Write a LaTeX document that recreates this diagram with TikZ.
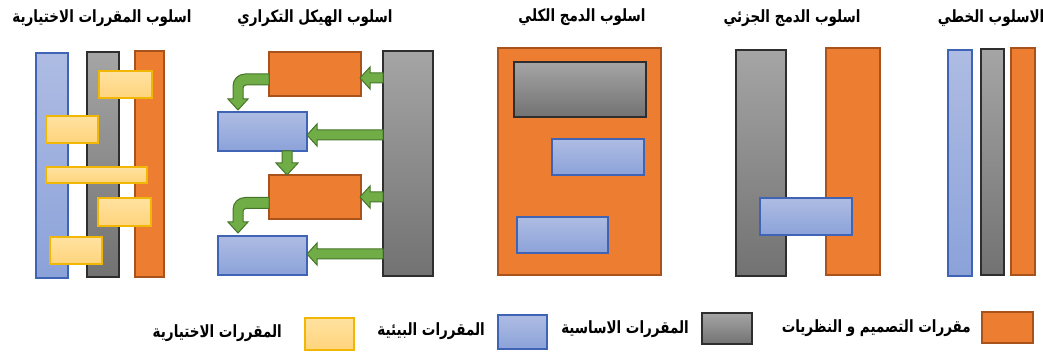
\documentclass[tikz,border=0pt]{standalone}
\usepackage{graphicx}
\usepackage{fontspec}
\usetikzlibrary{calc}
\TeXXeTstate=1
\newfontfamily\arabicfont[Script=Arabic]{DejaVu Sans}
\definecolor{orF}{HTML}{ED7D31}
\definecolor{orB}{HTML}{A9531C}
\definecolor{grT}{HTML}{A5A5A5}
\definecolor{grB}{HTML}{727272}
\definecolor{grD}{HTML}{2E2E2E}
\definecolor{blT}{HTML}{AEBCE3}
\definecolor{blB}{HTML}{8BA2D9}
\definecolor{blD}{HTML}{3F64B5}
\definecolor{yeT}{HTML}{FFE2A0}
\definecolor{yeB}{HTML}{FFD47C}
\definecolor{yeD}{HTML}{F2B705}
\definecolor{gnF}{HTML}{70AD47}
\definecolor{gnD}{HTML}{46752A}
\tikzset{
  base/.style={rectangle, inner sep=0pt, outer sep=0pt, anchor=north west, line width=1.1pt},
  orbox/.style={base, fill=orF, draw=orB},
  grbox/.style={base, top color=grT, bottom color=grB, draw=grD},
  blbox/.style={base, top color=blT, bottom color=blB, draw=blD},
  yebox/.style={base, top color=yeT, bottom color=yeB, draw=yeD},
  garrow/.style={fill=gnF, draw=gnD, line width=1pt, line join=miter},
  ttl/.style={font=\arabicfont\bfseries\fontsize{13.5}{15}\selectfont, inner sep=0pt},
  leg/.style={font=\arabicfont\bfseries\fontsize{13.5}{15}\selectfont, inner sep=0pt, anchor=east},
}
\newcommand\artxt[1]{\scalebox{1}[1.25]{\beginR #1\endR}}
% box: name, style, x1, y1, x2, y2 (pixels, y downward)
\newcommand\bx[6]{\node[#2, minimum width={(#5-#3)*1pt}, minimum height={(#6-#4)*1pt}] (#1) at (#3,#4) {};}
% left-pointing block arrow: tail point, tip point (same height)
\newcommand\LArrow[2]{\draw[garrow] let \p1=#1, \p2=#2 in
  (\x1,\y2+5pt) -- (\x2+10pt,\y2+5pt) -- (\x2+10pt,\y2+11pt) -- (\x2,\y2) --
  (\x2+10pt,\y2-11pt) -- (\x2+10pt,\y2-5pt) -- (\x1,\y2-5pt) -- cycle;}
% down-pointing block arrow: tail point, tip point (same x)
\newcommand\DArrow[2]{\draw[garrow] let \p1=#1, \p2=#2 in
  (\x2-5pt,\y1) -- (\x2-5pt,\y2+12pt) -- (\x2-11pt,\y2+12pt) -- (\x2,\y2) --
  (\x2+11pt,\y2+12pt) -- (\x2+5pt,\y2+12pt) -- (\x2+5pt,\y1) -- cycle;}
% bent block arrow: tail point (on a left side), tip point (below-left)
\newcommand\BArrow[2]{\draw[garrow] let \p1=#1, \p2=#2 in
  (\x1,\y1+5.5pt) [rounded corners=12pt] -- (\x2-5pt,\y1+5.5pt) [sharp corners] --
  (\x2-5pt,\y2+11pt) -- (\x2-10pt,\y2+11pt) -- (\x2,\y2) -- (\x2+10pt,\y2+11pt) --
  (\x2+5pt,\y2+11pt) [rounded corners=3pt] -- (\x2+5pt,\y1-5.5pt) [sharp corners] --
  (\x1,\y1-5.5pt) -- cycle;}
\begin{document}
\begin{tikzpicture}[x=1pt,y=-1pt]
\useasboundingbox (0,0) rectangle (1043,352);
% ---------- style 5: elective courses ----------
\bx{eB}{blbox}{36}{53}{68}{278}
\bx{eG}{grbox}{87}{52}{119}{277}
\bx{eO}{orbox}{135}{51}{164}{277}
\bx{eY1}{yebox}{99}{71}{152}{98}
\bx{eY2}{yebox}{46}{116}{98}{143}
\bx{eY3}{yebox}{46}{167}{147}{183}
\bx{eY4}{yebox}{98}{198}{151}{226}
\bx{eY5}{yebox}{50}{237}{102}{264}
\node[ttl] (t5) at (102,18) {\artxt{اسلوب المقررات الاختيارية}};
% ---------- style 4: iterative structure ----------
\bx{iG}{grbox}{383}{51}{433}{276}
\bx{iO1}{orbox}{269}{52}{361}{96}
\bx{iB1}{blbox}{218}{112}{307}{151}
\bx{iO2}{orbox}{269}{175}{361}{219}
\bx{iB2}{blbox}{218}{236}{307}{275}
\coordinate (a1) at (360,78);
\coordinate (a2) at (307,135);
\coordinate (a3) at (360,197);
\coordinate (a4) at (307,254);
\LArrow{(iG.west |- a1)}{(a1)}
\LArrow{(iG.west |- a2)}{(a2)}
\LArrow{(iG.west |- a3)}{(a3)}
\LArrow{(iG.west |- a4)}{(a4)}
\coordinate (d1) at (287,0);
\DArrow{(iB1.south -| d1)}{(iO2.north -| d1)}
\coordinate (c1) at (269,79.5);
\coordinate (c2) at (269,203);
\coordinate (k1) at (238,110);
\coordinate (k2) at (238,233);
\BArrow{(c1)}{(k1)}
\BArrow{(c2)}{(k2)}
\node[ttl] (t4) at (315,18) {\artxt{اسلوب الهيكل التكراري}};
% ---------- style 3: full integration ----------
\bx{fO}{orbox}{498}{48}{661}{275}
\bx{fG}{grbox}{514}{62}{646}{117}
\bx{fB1}{blbox}{552}{139}{644}{175}
\bx{fB2}{blbox}{517}{217}{608}{253}
\node[ttl] (t3) at (582,17) {\artxt{اسلوب الدمج الكلي}};
% ---------- style 2: partial integration ----------
\bx{pG}{grbox}{736}{50}{786}{276}
\bx{pO}{orbox}{826}{48}{880}{275}
\bx{pB}{blbox}{760}{198}{852}{235}
\node[ttl] (t2) at (792,18) {\artxt{اسلوب الدمج الجزئي}};
% ---------- style 1: linear ----------
\bx{lB}{blbox}{948}{50}{972}{276}
\bx{lG}{grbox}{981}{49}{1004}{275}
\bx{lO}{orbox}{1011}{48}{1035}{275}
\node[ttl] (t1) at (991,18) {\artxt{الاسلوب الخطي}};
% ---------- legend ----------
\bx{kO}{orbox}{982}{312}{1033}{343}
\bx{kG}{grbox}{702}{313}{752}{344}
\bx{kB}{blbox}{498}{315}{547}{349}
\bx{kY}{yebox}{305}{318}{354}{350}
\node[leg] (lt1) at (971,328) {\artxt{مقررات التصميم و النظريات}};
\node[leg] (lt2) at (689,329) {\artxt{المقررات الاساسية}};
\node[leg] (lt3) at (485,331) {\artxt{المقررات البيئية}};
\node[leg] (lt4) at (282,333) {\artxt{المقررات الاختيارية}};
\end{tikzpicture}
\end{document}
